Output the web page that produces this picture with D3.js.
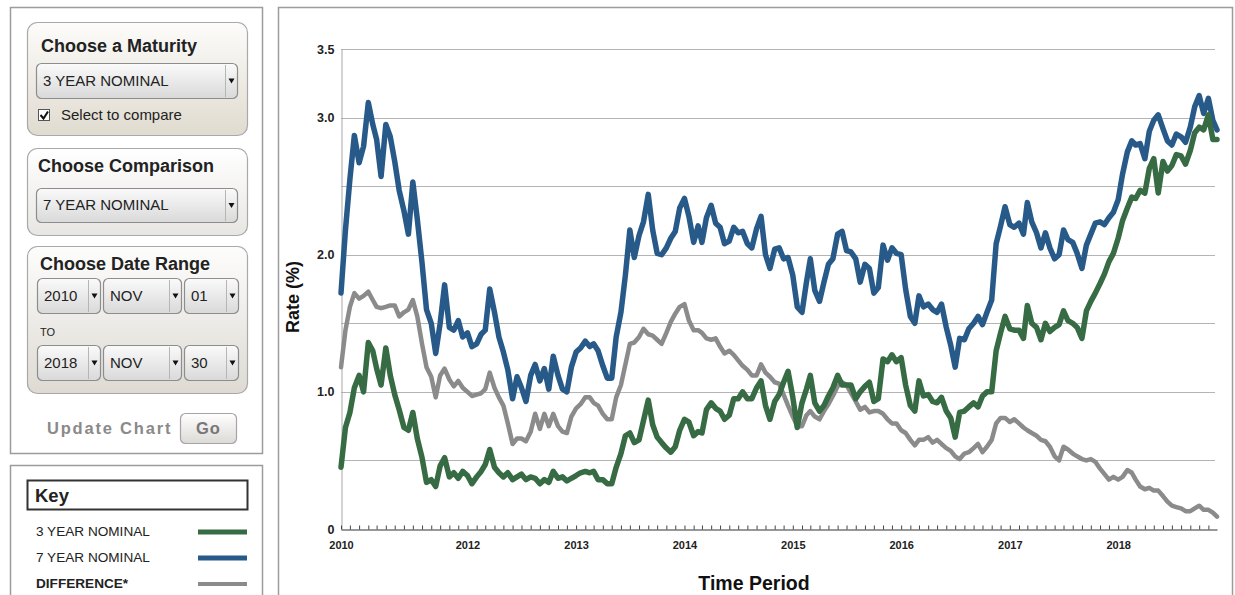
<!DOCTYPE html>
<html>
<head>
<meta charset="utf-8">
<script src="https://cdn.jsdelivr.net/npm/d3@7"></script>
<style>
  body { margin: 0; background: #fff; font-family: "Liberation Sans", Arial, sans-serif; }
</style>
</head>
<body>
<div id="chart"></div>
<script>
// Half-monthly sample dates, Nov 2010 - Nov 2018
const dates = [
  "2010-11-01","2010-11-16","2010-12-01","2010-12-16",
  "2011-01-01","2011-01-16","2011-02-01","2011-02-16","2011-03-01","2011-03-16","2011-04-01","2011-04-16","2011-05-01","2011-05-16","2011-06-01","2011-06-16","2011-07-01","2011-07-16","2011-08-01","2011-08-16","2011-09-01","2011-09-16","2011-10-01","2011-10-16","2011-11-01","2011-11-16","2011-12-01","2011-12-16",
  "2012-01-01","2012-01-16","2012-02-01","2012-02-16","2012-03-01","2012-03-16","2012-04-01","2012-04-16","2012-05-01","2012-05-16","2012-06-01","2012-06-16","2012-07-01","2012-07-16","2012-08-01","2012-08-16","2012-09-01","2012-09-16","2012-10-01","2012-10-16","2012-11-01","2012-11-16","2012-12-01","2012-12-16",
  "2013-01-01","2013-01-16","2013-02-01","2013-02-16","2013-03-01","2013-03-16","2013-04-01","2013-04-16","2013-05-01","2013-05-16","2013-06-01","2013-06-16","2013-07-01","2013-07-16","2013-08-01","2013-08-16","2013-09-01","2013-09-16","2013-10-01","2013-10-16","2013-11-01","2013-11-16","2013-12-01","2013-12-16",
  "2014-01-01","2014-01-16","2014-02-01","2014-02-16","2014-03-01","2014-03-16","2014-04-01","2014-04-16","2014-05-01","2014-05-16","2014-06-01","2014-06-16","2014-07-01","2014-07-16","2014-08-01","2014-08-16","2014-09-01","2014-09-16","2014-10-01","2014-10-16","2014-11-01","2014-11-16","2014-12-01","2014-12-16",
  "2015-01-01","2015-01-16","2015-02-01","2015-02-16","2015-03-01","2015-03-16","2015-04-01","2015-04-16","2015-05-01","2015-05-16","2015-06-01","2015-06-16","2015-07-01","2015-07-16","2015-08-01","2015-08-16","2015-09-01","2015-09-16","2015-10-01","2015-10-16","2015-11-01","2015-11-16","2015-12-01","2015-12-16",
  "2016-01-01","2016-01-16","2016-02-01","2016-02-16","2016-03-01","2016-03-16","2016-04-01","2016-04-16","2016-05-01","2016-05-16","2016-06-01","2016-06-16","2016-07-01","2016-07-16","2016-08-01","2016-08-16","2016-09-01","2016-09-16","2016-10-01","2016-10-16","2016-11-01","2016-11-16","2016-12-01","2016-12-16",
  "2017-01-01","2017-01-16","2017-02-01","2017-02-16","2017-03-01","2017-03-16","2017-04-01","2017-04-16","2017-05-01","2017-05-16","2017-06-01","2017-06-16","2017-07-01","2017-07-16","2017-08-01","2017-08-16","2017-09-01","2017-09-16","2017-10-01","2017-10-16","2017-11-01","2017-11-16","2017-12-01","2017-12-16",
  "2018-01-01","2018-01-16","2018-02-01","2018-02-16","2018-03-01","2018-03-16","2018-04-01","2018-04-16","2018-05-01","2018-05-16","2018-06-01","2018-06-16","2018-07-01","2018-07-16","2018-08-01","2018-08-16","2018-09-01","2018-09-16","2018-10-01","2018-10-16","2018-11-01","2018-11-16","2018-11-30"
];

// 7 year nominal
const sevenYear = [
  1.72, 2.18, 2.55, 2.87, 2.67, 2.79, 3.11, 2.95, 2.84, 2.57,
  2.95, 2.86, 2.68, 2.47, 2.32, 2.15, 2.53, 2.26, 1.94, 1.60,
  1.50, 1.28, 1.50, 1.78, 1.47, 1.45, 1.52, 1.40, 1.43, 1.33,
  1.35, 1.42, 1.45, 1.75, 1.58, 1.40, 1.29, 1.16, 0.95, 1.11,
  1.03, 0.93, 1.12, 1.20, 1.08, 1.17, 1.02, 1.26, 1.12, 1.02,
  1.00, 1.18, 1.29, 1.32, 1.37, 1.33, 1.35, 1.30, 1.19, 1.10,
  1.10, 1.40, 1.58, 1.85, 2.18, 1.98, 2.14, 2.24, 2.44, 2.18,
  2.01, 2.00, 2.05, 2.12, 2.17, 2.34, 2.41, 2.28, 2.09, 2.21,
  2.09, 2.27, 2.36, 2.23, 2.20, 2.08, 2.10, 2.20, 2.16, 2.17,
  2.08, 2.05, 2.19, 2.28, 2.00, 1.90, 2.04, 2.05, 1.97, 1.98,
  1.85, 1.62, 1.58, 1.80, 1.97, 1.74, 1.66, 1.80, 1.93, 1.97,
  2.15, 2.17, 2.03, 2.02, 1.97, 1.80, 1.93, 1.90, 1.72, 1.76,
  2.07, 1.96, 2.05, 2.01, 2.00, 1.75, 1.55, 1.50, 1.70, 1.62,
  1.64, 1.60, 1.58, 1.64, 1.47, 1.34, 1.18, 1.39, 1.38, 1.46,
  1.50, 1.55, 1.49, 1.58, 1.67, 2.08, 2.21, 2.35, 2.22, 2.20,
  2.23, 2.15, 2.38, 2.24, 2.16, 2.05, 2.16, 2.05, 1.97, 2.00,
  2.18, 2.11, 2.09, 2.01, 1.90, 2.07, 2.15, 2.23, 2.24, 2.22,
  2.27, 2.31, 2.40, 2.59, 2.75, 2.83, 2.80, 2.81, 2.70, 2.90,
  2.98, 3.02, 2.92, 2.83, 2.80, 2.88, 2.86, 2.82, 2.93, 3.08,
  3.16, 3.03, 3.14, 2.98, 2.91
];

// 3 year nominal
const threeYear = [
  0.45, 0.74, 0.85, 1.03, 1.12, 1.00, 1.36, 1.30, 1.17, 1.05,
  1.32, 1.12, 0.98, 0.87, 0.74, 0.72, 0.85, 0.66, 0.52, 0.34,
  0.36, 0.31, 0.46, 0.52, 0.38, 0.41, 0.37, 0.42, 0.39, 0.33,
  0.38, 0.42, 0.47, 0.58, 0.45, 0.41, 0.38, 0.41, 0.36, 0.38,
  0.40, 0.36, 0.38, 0.37, 0.33, 0.36, 0.34, 0.42, 0.37, 0.38,
  0.35, 0.37, 0.39, 0.41, 0.42, 0.41, 0.42, 0.36, 0.36, 0.33,
  0.33, 0.45, 0.55, 0.68, 0.70, 0.63, 0.65, 0.79, 0.94, 0.76,
  0.67, 0.63, 0.59, 0.56, 0.60, 0.72, 0.80, 0.78, 0.68, 0.71,
  0.70, 0.87, 0.92, 0.88, 0.86, 0.80, 0.83, 0.95, 0.95, 1.00,
  0.95, 0.95, 1.03, 1.08, 0.90, 0.80, 0.93, 0.98, 1.07, 1.15,
  0.96, 0.74, 0.92, 1.02, 1.12, 0.92, 0.86, 0.90, 0.97, 1.03,
  1.12, 1.05, 1.05, 1.05, 0.95, 1.00, 1.04, 1.07, 0.93, 0.95,
  1.24, 1.22, 1.27, 1.22, 1.25, 1.05, 0.90, 0.86, 1.08, 0.97,
  0.98, 0.93, 0.92, 0.96, 0.86, 0.81, 0.67, 0.85, 0.86, 0.89,
  0.92, 0.89, 0.97, 1.00, 1.00, 1.30, 1.43, 1.55, 1.46, 1.45,
  1.45, 1.39, 1.63, 1.50, 1.47, 1.38, 1.50, 1.44, 1.47, 1.49,
  1.59, 1.52, 1.50, 1.47, 1.39, 1.59, 1.66, 1.72, 1.79, 1.86,
  1.95, 2.01, 2.12, 2.25, 2.34, 2.42, 2.41, 2.47, 2.45, 2.63,
  2.70, 2.45, 2.68, 2.61, 2.65, 2.73, 2.72, 2.66, 2.76, 2.89,
  2.93, 2.91, 3.02, 2.84, 2.84
];

// Difference (as drawn)
const difference = [
  1.18, 1.45, 1.62, 1.72, 1.68, 1.70, 1.73, 1.67, 1.62, 1.61,
  1.62, 1.63, 1.63, 1.55, 1.58, 1.60, 1.67, 1.55, 1.35, 1.18,
  1.11, 0.96, 1.12, 1.17, 1.09, 1.04, 1.08, 1.03, 1.00, 0.97,
  0.98, 0.99, 1.02, 1.14, 1.03, 0.96, 0.90, 0.77, 0.62, 0.66,
  0.66, 0.64, 0.71, 0.84, 0.73, 0.84, 0.75, 0.84, 0.75, 0.71,
  0.70, 0.82, 0.88, 0.91, 0.96, 0.96, 0.92, 0.90, 0.84, 0.80,
  0.80, 0.96, 1.05, 1.20, 1.35, 1.36, 1.40, 1.46, 1.42, 1.41,
  1.38, 1.35, 1.43, 1.51, 1.57, 1.62, 1.64, 1.52, 1.45, 1.45,
  1.43, 1.39, 1.38, 1.39, 1.33, 1.28, 1.30, 1.27, 1.23, 1.19,
  1.16, 1.12, 1.12, 1.20, 1.14, 1.11, 1.07, 1.06, 0.98, 0.90,
  0.82, 0.75, 0.75, 0.83, 0.86, 0.82, 0.80, 0.86, 0.91, 0.97,
  1.04, 1.07, 1.05, 0.99, 0.93, 0.87, 0.89, 0.85, 0.86, 0.86,
  0.84, 0.80, 0.77, 0.77, 0.72, 0.70, 0.65, 0.61, 0.65, 0.65,
  0.67, 0.63, 0.65, 0.62, 0.59, 0.57, 0.53, 0.51, 0.55, 0.56,
  0.59, 0.62, 0.56, 0.60, 0.65, 0.77, 0.81, 0.81, 0.78, 0.80,
  0.77, 0.74, 0.72, 0.70, 0.68, 0.65, 0.64, 0.60, 0.53, 0.50,
  0.60, 0.58, 0.55, 0.53, 0.51, 0.50, 0.51, 0.49, 0.44, 0.40,
  0.36, 0.38, 0.36, 0.38, 0.43, 0.41, 0.36, 0.31, 0.29, 0.30,
  0.28, 0.28, 0.24, 0.20, 0.17, 0.16, 0.15, 0.13, 0.13, 0.15,
  0.17, 0.14, 0.14, 0.12, 0.09
];

// Axis labels
const xLabelDates = ["2010-11-01", "2012-01-01", "2013-01-01", "2014-01-01", "2015-01-01", "2016-01-01", "2017-01-01", "2018-01-01"];
const xLabels = ["2010", "2012", "2013", "2014", "2015", "2016", "2017", "2018"];
const yLabelValues = [0, 1, 2, 3, 3.5];
const yLabels = ["0", "1.0", "2.0", "3.0", "3.5"];
const gridValues = [0.5, 1, 1.5, 2, 2.5, 3, 3.5];

const W = 1235, H = 595;
const PLOT = { left: 341, right: 1217, top: 49, bottom: 529 };
const GREEN = '#376b43', BLUE = '#285a89', GREY = '#8b8b8b';

const parse = d3.timeParse('%Y-%m-%d');
const dateVals = dates.map(parse);

const svg = d3.select('#chart')
    .append('svg')
    .attr('width', W)
    .attr('height', H)
    .style('font-family', '"Liberation Sans", Arial, sans-serif');

// Gradients
const defs = svg.append('defs');
function grad(id, top, bottom) {
    const g = defs.append('linearGradient').attr('id', id)
        .attr('x1', 0).attr('y1', 0).attr('x2', 0).attr('y2', 1);
    g.append('stop').attr('offset', '0%').attr('stop-color', top);
    g.append('stop').attr('offset', '100%').attr('stop-color', bottom);
}
grad('gBeige', '#fdfcfa', '#e0dbcf');
grad('gLight', '#ffffff', '#e8e6e2');
grad('gDate', '#fdfdfc', '#dedad3');
grad('gSelect', '#fafafa', '#d9d9d9');
grad('gBtn', '#ffffff', '#dcdad6');

// Panels
svg.append('rect').attr('x', 10.5).attr('y', 7.5).attr('width', 252).attr('height', 446)
    .attr('fill', '#fff').attr('stroke', '#9c9c9c').attr('stroke-width', 1.5);
svg.append('rect').attr('x', 10.5).attr('y', 465.5).attr('width', 252).attr('height', 150)
    .attr('fill', '#fff').attr('stroke', '#9c9c9c').attr('stroke-width', 1.5);
svg.append('rect').attr('x', 278.5).attr('y', 7.5).attr('width', 954).attr('height', 620)
    .attr('fill', '#fff').attr('stroke', '#9c9c9c').attr('stroke-width', 1.5);

const ui = svg.append('g').attr('class', 'controls');

function groupBox(x, y, w, h, fill, title, tx, ty) {
    ui.append('rect').attr('x', x + 0.5).attr('y', y + 0.5).attr('width', w).attr('height', h)
        .attr('rx', 10).attr('fill', `url(#${fill})`).attr('stroke', '#a9a9a9').attr('stroke-width', 1.2);
    ui.append('text').attr('x', tx).attr('y', ty).text(title)
        .attr('font-size', 18).attr('font-weight', 'bold').attr('fill', '#222');
}

function selectBox(x, y, w, h, label) {
    ui.append('rect').attr('x', x + 0.5).attr('y', y + 0.5).attr('width', w).attr('height', h)
        .attr('rx', 5).attr('fill', 'url(#gSelect)').attr('stroke', '#8d8d8d').attr('stroke-width', 1.2);
    ui.append('line').attr('x1', x + w - 11.5).attr('x2', x + w - 11.5).attr('y1', y + 2).attr('y2', y + h - 1)
        .attr('stroke', '#b5b5b5');
    const ax = x + w - 5.5, ay = y + h / 2;
    ui.append('path').attr('d', `M${ax - 3},${ay - 2}L${ax + 3},${ay - 2}L${ax},${ay + 3}Z`).attr('fill', '#111');
    ui.append('text').attr('x', x + 7).attr('y', y + h / 2 + 5).text(label)
        .attr('font-size', 15).attr('fill', '#222');
}

// Choose a Maturity
groupBox(27, 22, 220, 113, 'gBeige', 'Choose a Maturity', 41, 52);
selectBox(36, 63, 201, 35, '3 YEAR NOMINAL');
ui.append('rect').attr('x', 38.5).attr('y', 109.5).attr('width', 11).attr('height', 11)
    .attr('fill', '#fff').attr('stroke', '#555');
ui.append('path').attr('d', 'M40.5,115 L43.5,118.5 L48,111.5').attr('fill', 'none')
    .attr('stroke', '#111').attr('stroke-width', 2);
ui.append('text').attr('x', 61).attr('y', 120).text('Select to compare')
    .attr('font-size', 15).attr('fill', '#222');

// Choose Comparison
groupBox(27, 148, 220, 87, 'gLight', 'Choose Comparison', 38, 172);
selectBox(36, 188, 201, 34, '7 YEAR NOMINAL');

// Choose Date Range
groupBox(27, 246, 220, 147, 'gDate', 'Choose Date Range', 40, 270);
selectBox(37, 278, 63, 35, '2010');
selectBox(103, 278, 78, 35, 'NOV');
selectBox(184, 278, 54, 35, '01');
ui.append('text').attr('x', 40).attr('y', 336).text('TO').attr('font-size', 11).attr('fill', '#222');
selectBox(37, 345, 63, 35, '2018');
selectBox(103, 345, 78, 35, 'NOV');
selectBox(184, 345, 54, 35, '30');

// Update chart
ui.append('text').attr('x', 47).attr('y', 434).text('Update Chart')
    .attr('font-size', 16.5).attr('font-weight', 'bold').attr('fill', '#8a8a8a').attr('letter-spacing', 1.8);
ui.append('rect').attr('x', 180.5).attr('y', 413.5).attr('width', 56).attr('height', 30)
    .attr('rx', 5).attr('fill', 'url(#gBtn)').attr('stroke', '#a5a5a5').attr('stroke-width', 1.2);
ui.append('text').attr('x', 208.5).attr('y', 434).attr('text-anchor', 'middle').text('Go')
    .attr('font-size', 16.5).attr('font-weight', 'bold').attr('fill', '#777').attr('letter-spacing', 1);

// Key
const key = svg.append('g').attr('class', 'key');
key.append('rect').attr('x', 27.5).attr('y', 480.5).attr('width', 220).attr('height', 29)
    .attr('fill', '#fff').attr('stroke', '#333').attr('stroke-width', 2);
key.append('text').attr('x', 35).attr('y', 502).text('Key')
    .attr('font-size', 18.5).attr('font-weight', 'bold').attr('fill', '#222');
const keyItems = [
    { label: '3 YEAR NOMINAL', color: GREEN, bold: false, w: 5 },
    { label: '7 YEAR NOMINAL', color: BLUE, bold: false, w: 5 },
    { label: 'DIFFERENCE*', color: GREY, bold: true, w: 4 }
];
keyItems.forEach((k, i) => {
    const y = 536 + i * 26;
    key.append('text').attr('x', 36).attr('y', y).text(k.label)
        .attr('font-size', 13.6).attr('font-weight', k.bold ? 'bold' : 'normal').attr('fill', '#222');
    key.append('line').attr('x1', 198).attr('x2', 247).attr('y1', y - 4).attr('y2', y - 4)
        .attr('stroke', k.color).attr('stroke-width', k.w);
});

// Scales
const xScale = d3.scaleTime()
    .domain([dateVals[0], dateVals[dateVals.length - 1]])
    .range([PLOT.left, PLOT.right]);

const yScale = d3.scaleLinear()
    .domain([0, 3.5])
    .range([PLOT.bottom, PLOT.top]);

// Gridlines
svg.append('g')
    .attr('class', 'grid')
    .selectAll('line')
    .data(gridValues)
    .enter()
    .append('line')
    .attr('x1', PLOT.left)
    .attr('x2', 1215)
    .attr('y1', d => Math.round(yScale(d)) + 0.5)
    .attr('y2', d => Math.round(yScale(d)) + 0.5)
    .attr('stroke', '#b4b4b4')
    .attr('stroke-width', 1);

// Y axis
const yAxis = d3.axisLeft(yScale)
    .tickValues(yLabelValues)
    .tickFormat((d, i) => yLabels[i])
    .tickSize(0)
    .tickPadding(7);
const yg = svg.append('g')
    .attr('class', 'y-axis')
    .attr('transform', `translate(${PLOT.left + 0.5}, 0)`)
    .call(yAxis);
yg.select('.domain').attr('stroke', '#a8a8a8');
yg.selectAll('text').attr('font-size', 12.5).attr('font-weight', 'bold')
    .attr('fill', '#222').attr('font-family', '"Liberation Sans", Arial, sans-serif');

// X axis: monthly ticks
const xTicks = d3.axisBottom(xScale)
    .ticks(d3.timeMonth.every(1))
    .tickSizeInner(-4)
    .tickSizeOuter(0)
    .tickFormat('');
const xg = svg.append('g')
    .attr('class', 'x-axis')
    .attr('transform', `translate(0, ${PLOT.bottom + 0.5})`)
    .call(xTicks);
xg.select('.domain').attr('stroke', '#333').attr('stroke-width', 1.2);
xg.selectAll('.tick line').attr('stroke', '#444');

// X axis: year labels
const xLabelAxis = d3.axisBottom(xScale)
    .tickValues(xLabelDates.map(parse))
    .tickFormat((d, i) => xLabels[i])
    .tickSize(0)
    .tickPadding(12);
const xl = svg.append('g')
    .attr('class', 'x-labels')
    .attr('transform', `translate(0, ${PLOT.bottom})`)
    .call(xLabelAxis);
xl.select('.domain').remove();
xl.selectAll('text').attr('font-size', 11).attr('font-weight', 'bold')
    .attr('fill', '#222').attr('font-family', '"Liberation Sans", Arial, sans-serif');

// Lines
const line = values => d3.line()
    .x((d, i) => xScale(dateVals[i]))
    .y(d => yScale(d))(values);

const series = [
    { values: difference, color: GREY, width: 4.5 },
    { values: sevenYear, color: BLUE, width: 5.5 },
    { values: threeYear, color: GREEN, width: 5.5 }
];
svg.append('g')
    .attr('class', 'lines')
    .selectAll('path')
    .data(series)
    .enter()
    .append('path')
    .attr('d', d => line(d.values))
    .attr('fill', 'none')
    .attr('stroke', d => d.color)
    .attr('stroke-width', d => d.width)
    .attr('stroke-linejoin', 'round')
    .attr('stroke-linecap', 'round');

// Axis titles
svg.append('text')
    .attr('transform', 'translate(299, 297) rotate(-90)')
    .attr('text-anchor', 'middle')
    .text('Rate (%)')
    .attr('font-size', 18)
    .attr('font-weight', 'bold')
    .attr('fill', '#111');

svg.append('text')
    .attr('x', 754)
    .attr('y', 590)
    .attr('text-anchor', 'middle')
    .text('Time Period')
    .attr('font-size', 19.5)
    .attr('font-weight', 'bold')
    .attr('fill', '#111');
</script>
</body>
</html>
